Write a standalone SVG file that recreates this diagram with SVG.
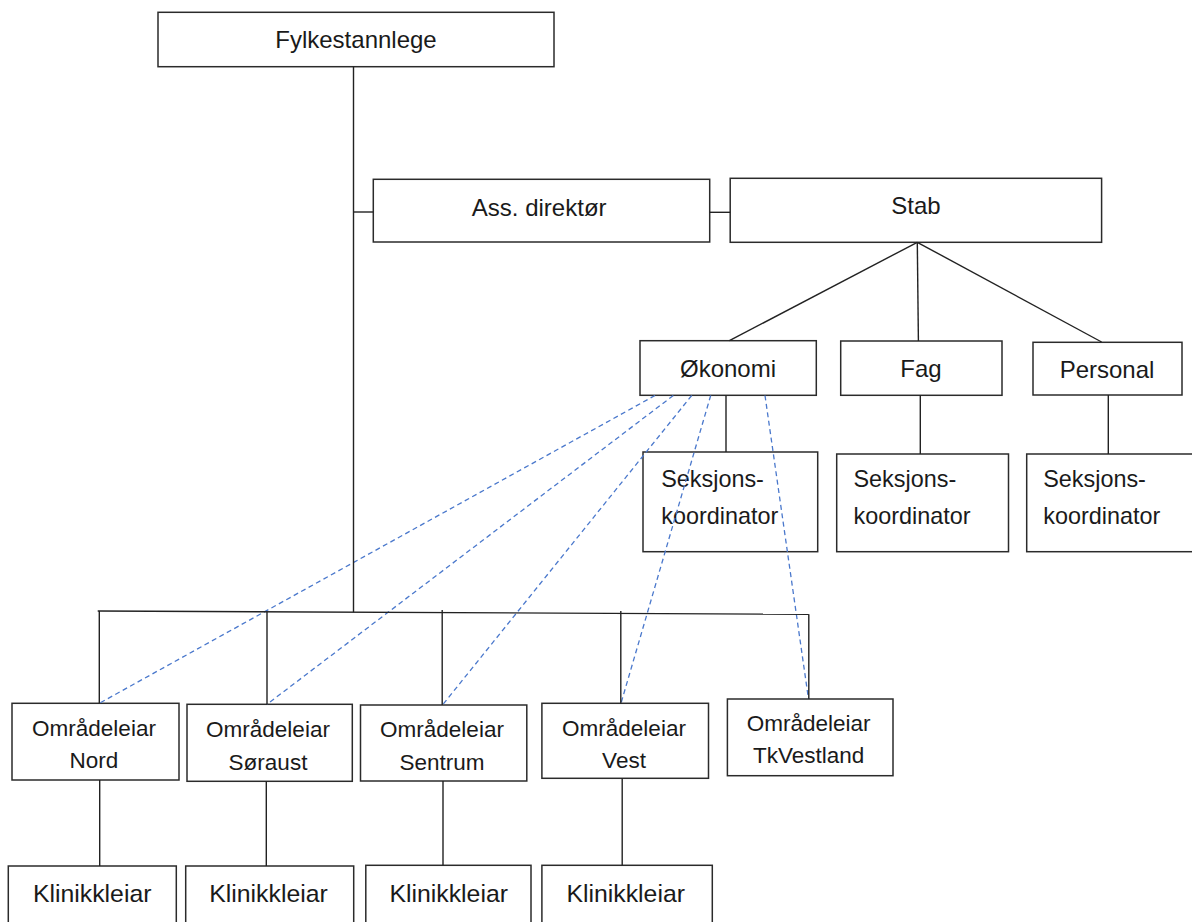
<svg xmlns="http://www.w3.org/2000/svg" width="1192" height="922" viewBox="0 0 1192 922">
<style>
.box{fill:#fff;stroke:#2b2b2b;stroke-width:1.5}
.ln{stroke:#222;stroke-width:1.4;fill:none}
.dash{stroke:#4a78cc;stroke-width:1.3;stroke-dasharray:5 3.5;fill:none}
text{font-family:"Liberation Sans",Arial,sans-serif;fill:#1a1a1a}
.c{text-anchor:middle;font-size:24px}
.l{font-size:23.4px}
.o{text-anchor:middle;font-size:22.5px}
.k{text-anchor:middle;font-size:24.8px}
</style>
<rect width="1192" height="922" fill="#fff"/>
<g id="fylkestannlege"><rect class="box" x="158" y="12.3" width="396" height="54.4"/><text class="c" x="356" y="48">Fylkestannlege</text></g>
<g id="ass-direktor"><rect class="box" x="373.3" y="179.3" width="336.4" height="62.7"/><text class="c" x="539.2" y="216">Ass. direktør</text></g>
<g id="stab"><rect class="box" x="730.2" y="178.3" width="371.4" height="64"/><text class="c" x="916" y="214">Stab</text></g>
<g id="okonomi"><rect class="box" x="640" y="340.7" width="176.3" height="54.6"/><text class="c" x="728" y="377">Økonomi</text></g>
<g id="fag"><rect class="box" x="840.7" y="341" width="161.3" height="54.3"/><text class="c" x="921" y="377">Fag</text></g>
<g id="personal"><rect class="box" x="1033" y="342.3" width="149" height="52.7"/><text class="c" x="1107" y="378">Personal</text></g>
<g id="seksjon-okonomi"><rect class="box" x="643" y="452" width="174.7" height="99.7"/><text class="l" x="661.2" y="487">Seksjons-</text><text class="l" x="661.2" y="524.3">koordinator</text></g>
<g id="seksjon-fag"><rect class="box" x="836.7" y="454" width="171.8" height="97.7"/><text class="l" x="853.5" y="487">Seksjons-</text><text class="l" x="853.5" y="524.3">koordinator</text></g>
<g id="seksjon-personal"><rect class="box" x="1026.7" y="454" width="180" height="97.7"/><text class="l" x="1043.2" y="487">Seksjons-</text><text class="l" x="1043.2" y="524.3">koordinator</text></g>
<g id="omr-nord"><rect class="box" x="12" y="703.3" width="167" height="76.7"/><text class="o" x="94" y="735.7">Områdeleiar</text><text class="o" x="94" y="767.7">Nord</text></g>
<g id="omr-soraust"><rect class="box" x="187" y="704.3" width="165.3" height="77"/><text class="o" x="268" y="736.7">Områdeleiar</text><text class="o" x="268" y="770">Søraust</text></g>
<g id="omr-sentrum"><rect class="box" x="360.5" y="705" width="166.3" height="76"/><text class="o" x="442" y="736.7">Områdeleiar</text><text class="o" x="442" y="770">Sentrum</text></g>
<g id="omr-vest"><rect class="box" x="541.9" y="703.3" width="166.6" height="75"/><text class="o" x="624" y="735.7">Områdeleiar</text><text class="o" x="624" y="767.7">Vest</text></g>
<g id="omr-tkvestland"><rect class="box" x="727.4" y="699" width="165.6" height="76.7"/><text class="o" x="808.6" y="731">Områdeleiar</text><text class="o" x="808.6" y="763.3">TkVestland</text></g>
<g id="klinikk-nord"><rect class="box" x="8.3" y="866" width="168" height="80"/><text class="k" x="92.2" y="901.7">Klinikkleiar</text></g>
<g id="klinikk-soraust"><rect class="box" x="185.7" y="866" width="168" height="80"/><text class="k" x="268.5" y="901.7">Klinikkleiar</text></g>
<g id="klinikk-sentrum"><rect class="box" x="365.8" y="865.3" width="165.2" height="80"/><text class="k" x="448.7" y="901.7">Klinikkleiar</text></g>
<g id="klinikk-vest"><rect class="box" x="541.9" y="865.3" width="170.4" height="80"/><text class="k" x="625.7" y="901.7">Klinikkleiar</text></g>
<g id="connectors">
<line class="dash" x1="655" y1="395.5" x2="99.3" y2="703.3"/>
<line class="dash" x1="673.3" y1="395.5" x2="267" y2="704.3"/>
<line class="dash" x1="691.7" y1="395.5" x2="442.5" y2="705"/>
<line class="dash" x1="710.7" y1="395.5" x2="621" y2="703.3"/>
<line class="dash" x1="765" y1="395.5" x2="808.5" y2="699"/>
<line class="ln" x1="353.5" y1="66.7" x2="353.5" y2="612.3"/>
<line class="ln" x1="353.5" y1="212" x2="373.3" y2="212"/>
<line class="ln" x1="709.7" y1="212.3" x2="730.2" y2="212.3"/>
<line class="ln" x1="917.3" y1="242.3" x2="729.4" y2="340.7"/>
<line class="ln" x1="917.3" y1="242.3" x2="918.4" y2="341"/>
<line class="ln" x1="917.3" y1="242.3" x2="1101.6" y2="342"/>
<line class="ln" x1="726" y1="395.3" x2="726" y2="452"/>
<line class="ln" x1="920.3" y1="395.3" x2="920.3" y2="454"/>
<line class="ln" x1="1108.3" y1="395" x2="1108.3" y2="454"/>
<line class="ln" x1="97.7" y1="611" x2="808.8" y2="614.3"/>
<line class="ln" x1="99.3" y1="611" x2="99.3" y2="703.3"/>
<line class="ln" x1="267" y1="611.8" x2="267" y2="704.3"/>
<line class="ln" x1="442.2" y1="610" x2="442.2" y2="705"/>
<line class="ln" x1="620.8" y1="611" x2="620.8" y2="703.3"/>
<line class="ln" x1="808.8" y1="614.3" x2="808.8" y2="699"/>
<line class="ln" x1="99.7" y1="780" x2="99.7" y2="866"/>
<line class="ln" x1="266.3" y1="781.3" x2="266.3" y2="866"/>
<line class="ln" x1="443" y1="781" x2="443" y2="865.3"/>
<line class="ln" x1="622.2" y1="778.3" x2="622.2" y2="865.3"/>
</g>
</svg>
